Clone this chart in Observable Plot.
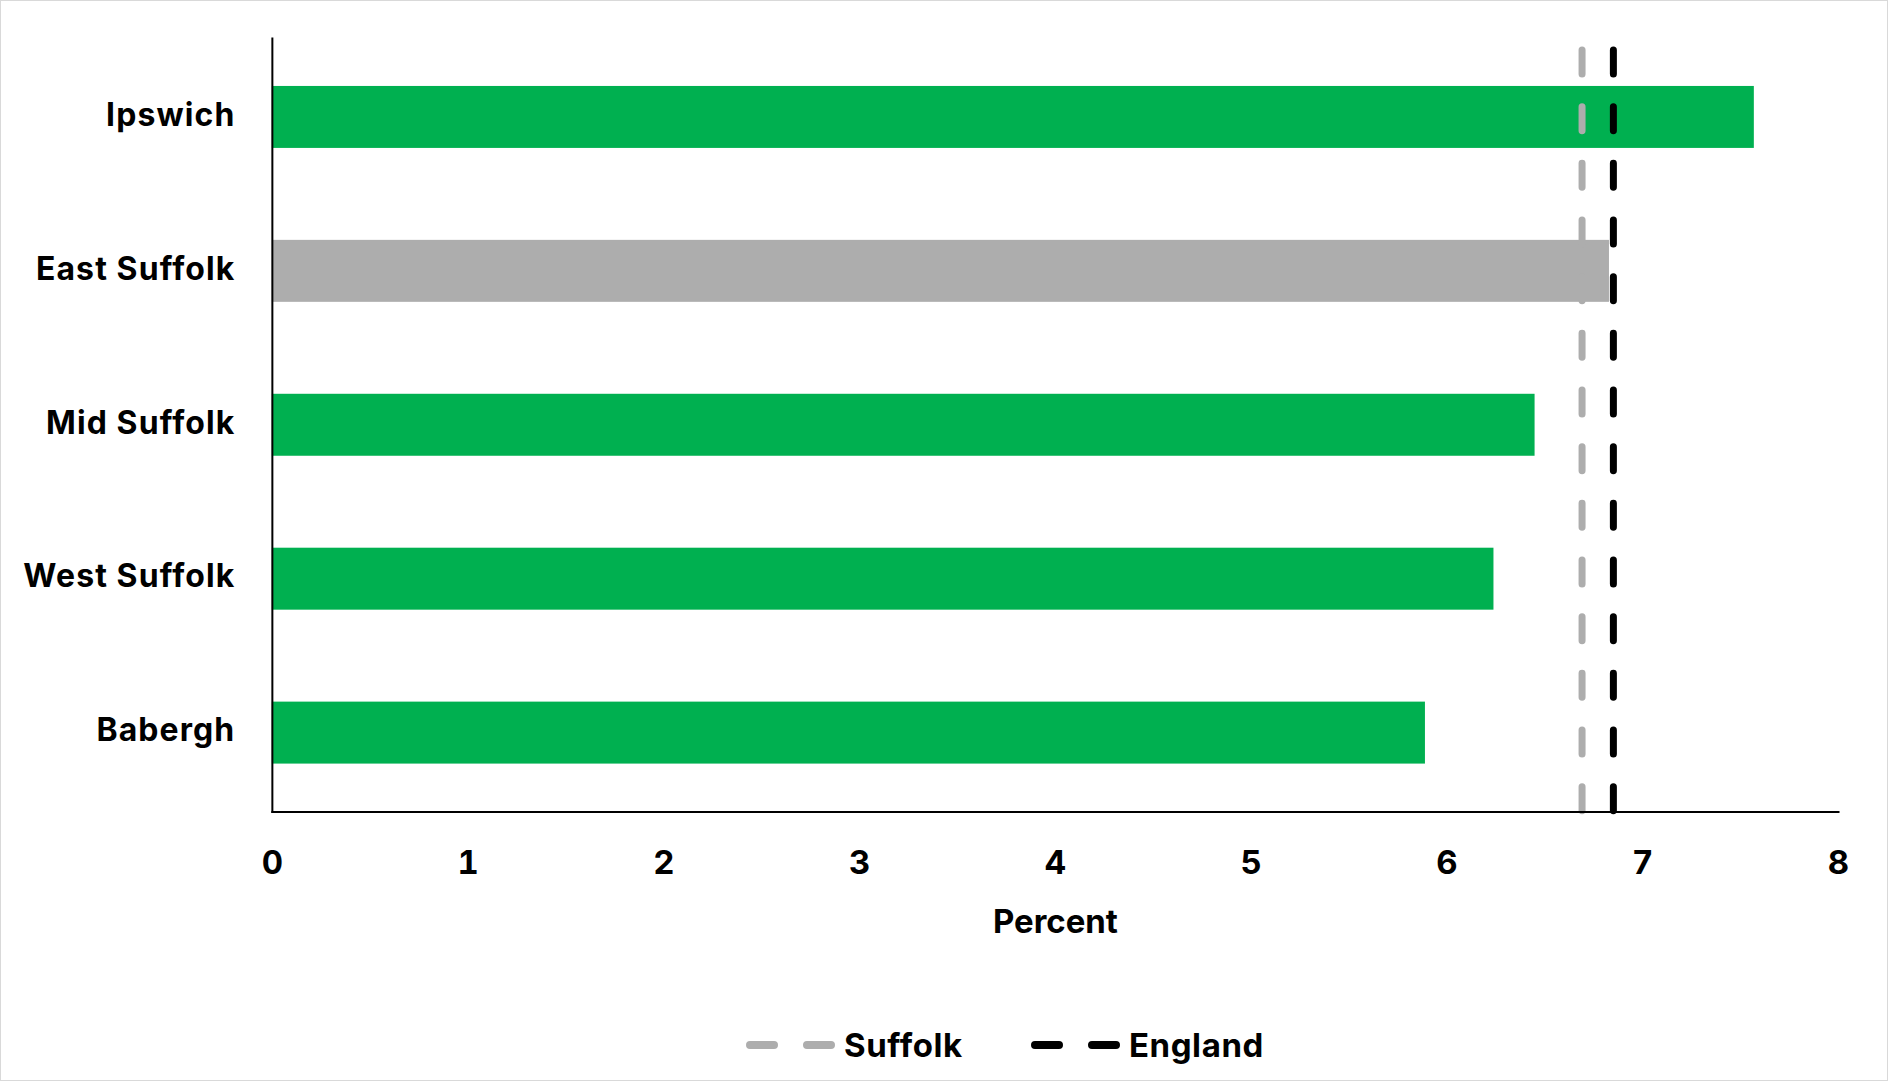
<!DOCTYPE html>
<html>
<head>
<meta charset="utf-8">
<script src="https://cdn.jsdelivr.net/npm/d3@7"></script>
<script src="https://cdn.jsdelivr.net/npm/@observablehq/plot@0.6"></script>
<style>
  html, body { margin: 0; padding: 0; background: #fff; }
  #wrap { position: relative; width: 1888px; height: 1081px; box-sizing: border-box; border: 1px solid #d9d9d9; background: #fff; overflow: hidden; font-family: Inter, "Noto Sans", sans-serif; }
  #chart { position: absolute; left: -1px; top: -1px; }
  #legend { position: absolute; top: 1023px; left: 745px; height: 42px; display: flex; align-items: center; font-weight: 700; font-size: 33px; letter-spacing: 0.6px; color: #000; }
  .item { display: flex; align-items: center; }
  .item span { margin-left: 8px; }
  #chart svg g[aria-label="y-axis tick label"] text { letter-spacing: 1.1px; }
</style>
</head>
<body>
<div id="wrap">
  <div id="chart"></div>
  <div id="legend"></div>
</div>
<script>
const districts = ["Ipswich", "East Suffolk", "Mid Suffolk", "West Suffolk", "Babergh"];
const percents = [7.57, 6.83, 6.45, 6.24, 5.89];
const highlighted = "East Suffolk";
const refNames = ["Suffolk", "England"];
const refValues = [6.69, 6.85];
const refColors = ["#ADADAD", "#000000"];
const xTicks = [0, 1, 2, 3, 4, 5, 6, 7, 8];

const rows = districts.map((d, i) => ({district: d, value: percents[i]}));
const refs = refNames.map((n, i) => ({name: n, value: refValues[i], color: refColors[i]}));

const font = "Inter, 'Noto Sans', sans-serif";

const chart = Plot.plot({
  width: 1888,
  height: 980,
  marginLeft: 272,
  marginRight: 49,
  marginTop: 38,
  marginBottom: 168,
  style: {fontFamily: font, fontWeight: 700, fontSize: "32px", color: "#000", background: "transparent"},
  x: {domain: [0, 8]},
  y: {domain: districts, paddingInner: 0.6, paddingOuter: 0.3},
  color: {type: "identity"},
  marks: [
    Plot.barX(rows, {x: "value", y: "district", fill: d => d.district === highlighted ? "#ADADAD" : "#00B050"}),
    ...refs.map(r => Plot.ruleX([r.value], {stroke: r.color, strokeWidth: 7, strokeDasharray: "24 32.7", strokeLinecap: "round", strokeDashoffset: 44.7})),
    Plot.frame({anchor: "left", stroke: "#000", strokeWidth: 2}),
    Plot.frame({anchor: "bottom", stroke: "#000", strokeWidth: 2}),
    Plot.axisX({ticks: xTicks, tickSize: 0, tickPadding: 39, label: null, fontSize: 33, fontWeight: 700}),
    Plot.axisY({tickSize: 0, tickPadding: 37, label: null, fontSize: 32, fontWeight: 700, dy: -2}),
    Plot.text(["Percent"], {frameAnchor: "bottom", dy: 121, fontSize: 33, fontWeight: 700, fill: "#000"})
  ]
});
document.getElementById("chart").appendChild(chart);

const legend = document.getElementById("legend");
refs.forEach((r, i) => {
  const item = document.createElement("div");
  item.className = "item";
  if (i > 0) item.style.marginLeft = "68px";
  item.innerHTML = `<svg width="90" height="20"><line x1="4" y1="10" x2="86" y2="10" stroke="${r.color}" stroke-width="8" stroke-linecap="round" stroke-dasharray="24 33"/></svg><span>${r.name}</span>`;
  legend.appendChild(item);
});
</script>
</body>
</html>
